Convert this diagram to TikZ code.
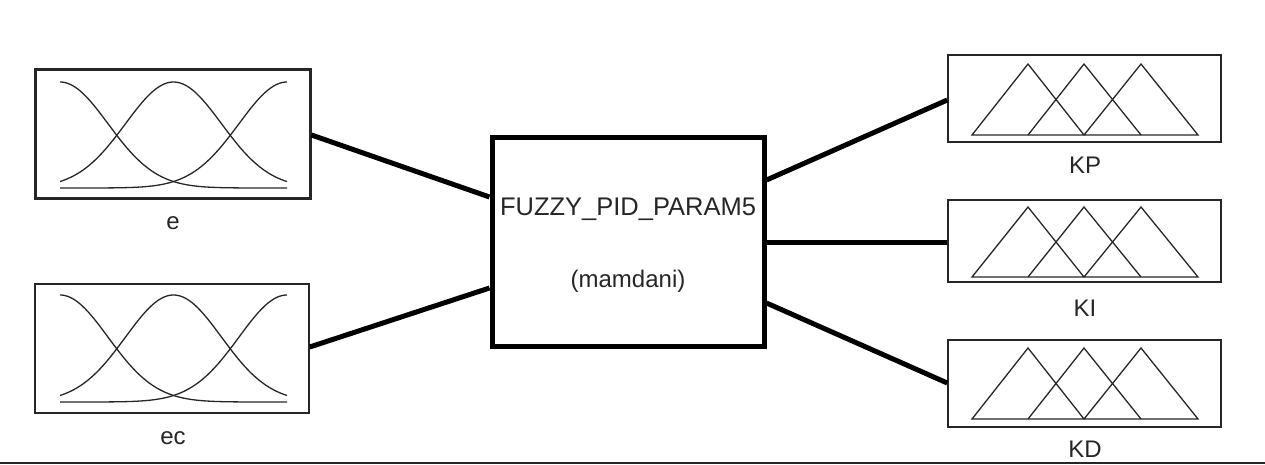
\documentclass[tikz,border=0pt]{standalone}
\usepackage{fontspec}
\setmainfont{Liberation Sans}
\usetikzlibrary{calc}
\tikzset{
  mfbox/.style={draw=black!85, line width=1.5pt, minimum width=273pt, minimum height=87pt, inner sep=0pt},
  inbox/.style={draw=black!85, line width=1.5pt, minimum width=274pt, minimum height=129pt, inner sep=0pt},
  fisbox/.style={draw=black, line width=5pt, minimum width=272pt, minimum height=209pt, inner sep=0pt},
  conn/.style={draw=black, line width=5pt},
  curve/.style={draw=black!85, line width=1.3pt},
  lbl/.style={font=\fontsize{24}{28}\selectfont, text=black!85, inner sep=0pt}
}
\newcommand{\gaussset}[2]{% top y, bottom y
  \foreach \c in {60,173.5,287}{
    \draw[curve] plot[domain=60:287, samples=90, smooth] (\x, {#2-(#2-#1)*exp(-0.5*((\x-\c)/48)^2)});
  }
}
\newcommand{\triset}[2]{% apex y, base y
  \draw[curve, line join=miter] (972,#2) -- (1028,#1) -- (1084,#2) -- (1141,#1) -- (1198,#2) -- cycle;
  \draw[curve, line join=miter] (1028,#2) -- (1084,#1) -- (1141,#2);
}
\begin{document}
\begin{tikzpicture}[x=1pt, y=-1pt]
\useasboundingbox (0,0) rectangle (1265,464);
% input boxes
\node[inbox, line width=3pt, minimum width=275pt] (e) at (172.5,133.5) {};
\node[inbox] (ec) at (172,348.5) {};
\gaussset{82}{188}
\gaussset{295}{402}
\node[lbl] (elbl) at (173,223) {e};
\node[lbl] (eclbl) at (173,438) {ec};
% FIS box
\node[fisbox] (fis) at (628,241.5) {};
\node[lbl, font=\fontsize{25.5}{30}\selectfont] (fisname) at (628,209) {FUZZY\_PID\_PARAM5};
\node[lbl] (fistype) at (628,281) {(mamdani)};
% output boxes
\node[mfbox] (kp) at (1084.5,98.5) {};
\node[mfbox, minimum height=82pt] (ki) at (1084.5,241) {};
\node[mfbox] (kd) at (1084.5,383.5) {};
\triset{64}{135}
\triset{207}{277}
\triset{348}{419}
\node[lbl] (kplbl) at (1085,165) {KP};
\node[lbl] (kilbl) at (1085,308) {KI};
\node[lbl] (kdlbl) at (1085,449) {KD};
% connection points on the FIS box
\coordinate (fin1) at (fis.west |- 0,197);
\coordinate (fin2) at (fis.west |- 0,288);
\coordinate (fout1) at (fis.east |- 0,180);
\coordinate (fout2) at (fis.east |- 0,242);
\coordinate (fout3) at (fis.east |- 0,303);
\coordinate (ein) at (e.east |- 0,135);
\coordinate (ecin) at (ec.east |- 0,347);
\coordinate (kpin) at (kp.west |- 0,100);
\coordinate (kiin) at (ki.west |- 0,242);
\coordinate (kdin) at (kd.west |- 0,383);
\draw[conn] (ein) -- (fin1);
\draw[conn] (ecin) -- (fin2);
\draw[conn] (fout1) -- (kpin);
\draw[conn] (fout2) -- (kiin);
\draw[conn] (fout3) -- (kdin);
% bottom rule
\coordinate (rl) at (0,463);
\coordinate (rr) at (1265,463);
\draw[line width=2pt, black!85] (rl) -- (rr);
\end{tikzpicture}
\end{document}
